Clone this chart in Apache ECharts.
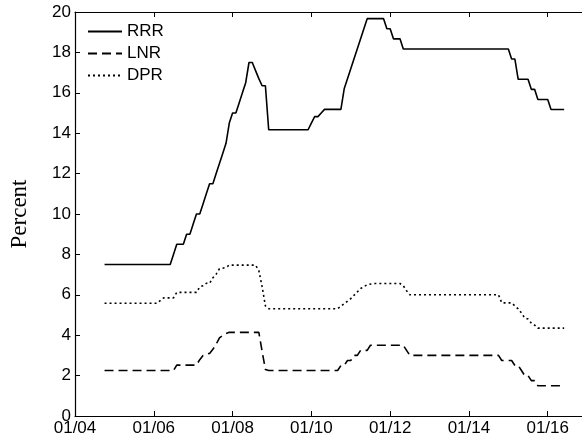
<!DOCTYPE html>
<html>
<head>
<meta charset="utf-8">
<script src="https://cdn.jsdelivr.net/npm/echarts@6/dist/echarts.min.js"></script>
<style>
html,body{margin:0;padding:0;background:#fff;}
#chart{width:582px;height:443px;}
</style>
</head>
<body>
<div id="chart"></div>
<script>
// Month ('YYYY-MM') and percent
var seriesNames = ['RRR', 'LNR', 'DPR'];
var rrr = [
  ['2004-10',7.5],['2006-06',7.5],['2006-07',8.0],['2006-08',8.5],['2006-10',8.5],['2006-11',9.0],['2006-12',9.0],
  ['2007-01',9.5],['2007-02',10.0],['2007-03',10.0],['2007-04',10.5],['2007-05',11.0],['2007-06',11.5],['2007-07',11.5],
  ['2007-08',12.0],['2007-09',12.5],['2007-10',13.0],['2007-11',13.5],['2007-12',14.5],['2008-01',15.0],['2008-02',15.0],
  ['2008-03',15.5],['2008-04',16.0],['2008-05',16.5],['2008-06',17.5],['2008-07',17.5],['2008-08',17.1],['2008-09',16.7],
  ['2008-10',16.35],['2008-11',16.35],['2008-12',14.17],['2009-12',14.17],['2010-01',14.5],['2010-02',14.82],['2010-03',14.82],
  ['2010-04',15.0],['2010-05',15.18],['2010-10',15.18],['2010-11',16.2],['2011-06',19.67],['2011-11',19.67],['2011-12',19.17],
  ['2012-01',19.17],['2012-02',18.67],['2012-04',18.67],['2012-05',18.17],['2015-01',18.17],['2015-02',17.67],['2015-03',17.67],
  ['2015-04',16.67],['2015-07',16.67],['2015-08',16.17],['2015-09',16.17],['2015-10',15.67],['2016-01',15.67],['2016-02',15.17],
  ['2016-06',15.17]
];
var lnr = [
  ['2004-10',2.25],['2006-07',2.25],['2006-08',2.52],['2007-02',2.52],['2007-03',2.79],['2007-04',3.0],['2007-05',3.06],
  ['2007-06',3.1],['2007-07',3.3],['2007-08',3.55],['2007-09',3.87],['2007-10',3.98],['2007-11',4.08],['2007-12',4.14],
  ['2008-09',4.14],['2008-10',3.2],['2008-11',2.3],['2008-12',2.25],['2010-09',2.25],['2010-10',2.5],['2010-11',2.5],
  ['2010-12',2.75],['2011-01',2.75],['2011-02',3.0],['2011-03',3.0],['2011-04',3.25],['2011-06',3.25],['2011-07',3.5],
  ['2012-05',3.5],['2012-06',3.25],['2012-07',3.0],['2014-10',3.0],['2014-11',2.75],['2015-02',2.75],['2015-03',2.5],
  ['2015-04',2.5],['2015-05',2.25],['2015-06',2.0],['2015-07',2.0],['2015-08',1.75],['2015-09',1.75],['2015-10',1.5],
  ['2016-06',1.5]
];
var dpr = [
  ['2004-10',5.58],['2006-02',5.58],['2006-04',5.85],['2006-07',5.85],['2006-08',6.12],['2007-02',6.12],['2007-03',6.39],
  ['2007-04',6.45],['2007-05',6.57],['2007-06',6.57],['2007-07',6.84],['2007-08',7.02],['2007-09',7.29],['2007-11',7.35],
  ['2007-12',7.47],['2008-08',7.47],['2008-09',7.2],['2008-10',6.4],['2008-11',5.45],['2008-12',5.31],['2010-09',5.31],
  ['2010-11',5.56],['2011-01',5.81],['2011-04',6.31],['2011-06',6.5],['2011-08',6.56],['2012-04',6.56],['2012-05',6.45],
  ['2012-06',6.2],['2012-07',6.0],['2014-10',6.0],['2014-11',5.6],['2015-02',5.6],['2015-04',5.3],['2015-05',5.1],
  ['2015-06',4.85],['2015-07',4.8],['2015-08',4.6],['2015-09',4.5],['2015-10',4.35],['2016-06',4.35]
];
var xTickLabels = ['01/04','01/06','01/08','01/10','01/12','01/14','01/16'];
var yTickLabels = ['0','2','4','6','8','10','12','14','16','18','20'];

function toPoints(arr) {
  return arr.map(function (d) {
    var p = d[0].split('-');
    return [parseInt(p[0], 10) + (parseInt(p[1], 10) - 1) / 12, d[1]];
  });
}

var FONT = 'Liberation Sans';
var xMin = 2004, xMax = 2016.87, xStep = 2;

function xLabel(v) {
  var i = Math.round((v - xMin) / xStep);
  if (Math.abs(v - (xMin + i * xStep)) > 1e-6 || i < 0 || i >= xTickLabels.length) return '';
  return xTickLabels[i];
}
function yLabel(v) {
  var i = Math.round(v / 2);
  return yTickLabels[i] !== undefined ? yTickLabels[i] : '';
}

var chart = echarts.init(document.getElementById('chart'), null, {renderer: 'canvas'});
var lineBase = {type: 'line', showSymbol: false, symbol: 'none', animation: false, xAxisIndex: 0, yAxisIndex: 0, color: '#000'};
chart.setOption({
  animation: false,
  backgroundColor: '#fff',
  grid: {left: 74, top: 12, right: 0, bottom: 27, containLabel: false},
  legend: {
    orient: 'vertical', left: 82, top: 18, itemWidth: 34, itemHeight: 14, itemGap: 5,
    itemStyle: {opacity: 0},
    textStyle: {fontFamily: FONT, fontSize: 17, color: '#000'},
    data: seriesNames
  },
  xAxis: [{
    type: 'value', min: xMin, max: xMax, interval: xStep, position: 'bottom',
    axisLine: {show: true, lineStyle: {color: '#000', width: 1.2}},
    axisTick: {show: true, inside: true, length: 5, lineStyle: {color: '#000'}},
    axisLabel: {show: true, formatter: xLabel, fontFamily: FONT, fontSize: 17, color: '#000', margin: 4, showMaxLabel: false},
    splitLine: {show: false}
  }, {
    type: 'value', min: xMin, max: xMax, interval: xStep, position: 'top',
    axisLine: {show: true, onZero: false, lineStyle: {color: '#000', width: 1.2}},
    axisTick: {show: true, inside: true, length: 5, lineStyle: {color: '#000'}},
    axisLabel: {show: false},
    splitLine: {show: false}
  }],
  yAxis: {
    type: 'value', min: 0, max: 20, interval: 2,
    name: 'Percent', nameLocation: 'middle', nameGap: 44, nameRotate: 90,
    nameTextStyle: {fontFamily: 'Liberation Serif', fontSize: 23, color: '#000'},
    axisLine: {show: true, lineStyle: {color: '#000', width: 1.2}},
    axisTick: {show: true, inside: true, length: 5, lineStyle: {color: '#000'}},
    axisLabel: {formatter: yLabel, fontFamily: FONT, fontSize: 17, color: '#000', margin: 4},
    splitLine: {show: false}
  },
  series: [
    Object.assign({}, lineBase, {name: seriesNames[0], data: toPoints(rrr), lineStyle: {color: '#000', width: 1.6, type: 'solid'}}),
    Object.assign({}, lineBase, {name: seriesNames[1], data: toPoints(lnr), lineStyle: {color: '#000', width: 1.6, type: [9, 5]}}),
    Object.assign({}, lineBase, {name: seriesNames[2], data: toPoints(dpr), lineStyle: {color: '#000', width: 1.6, type: [2, 3]}})
  ]
});
</script>
</body>
</html>
